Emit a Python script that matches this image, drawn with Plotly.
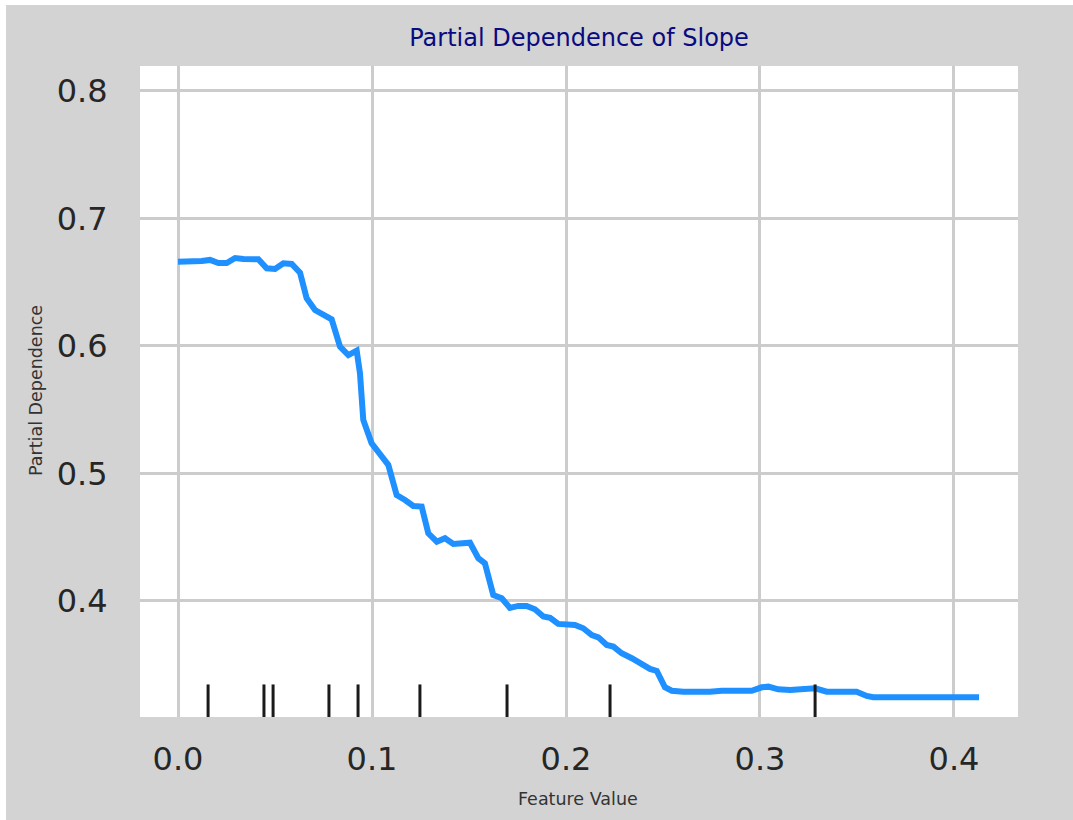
import plotly.graph_objects as go

# Partial dependence curve (feature value, partial dependence)
feature_values = [0.000, 0.0045, 0.0079, 0.0122, 0.0165, 0.0208, 0.0251, 0.0294, 0.0337, 0.0414,
                  0.0457, 0.0500, 0.0543, 0.0586, 0.0629, 0.0663, 0.0706, 0.0792, 0.0835, 0.0878,
                  0.0921, 0.0938, 0.0955, 0.0998, 0.1084, 0.1127, 0.1170, 0.1213, 0.1256, 0.1290,
                  0.1334, 0.1376, 0.1419, 0.1505, 0.1548, 0.1582, 0.1625, 0.1669, 0.1711, 0.1754,
                  0.1797, 0.1840, 0.1883, 0.1918, 0.1960, 0.2004, 0.2046, 0.2089, 0.2133, 0.2167,
                  0.2210, 0.2244, 0.2287, 0.2339, 0.2390, 0.2433, 0.2468, 0.2510, 0.2545, 0.2605,
                  0.2742, 0.2803, 0.2957, 0.3009, 0.3043, 0.3094, 0.3155, 0.3284, 0.3344, 0.3498,
                  0.3550, 0.3584, 0.4129]
partial_dependence = [0.666, 0.666, 0.667, 0.6667, 0.6675, 0.6651, 0.6651, 0.6690, 0.6682, 0.6680,
                      0.6609, 0.6604, 0.6649, 0.6643, 0.6575, 0.6374, 0.6282, 0.6209, 0.5995, 0.5929,
                      0.5963, 0.5786, 0.5420, 0.5237, 0.5067, 0.4831, 0.4792, 0.4745, 0.4740, 0.4531,
                      0.4465, 0.4492, 0.4447, 0.4457, 0.4335, 0.4296, 0.4047, 0.4021, 0.3945, 0.3961,
                      0.3961, 0.3935, 0.3878, 0.3867, 0.3820, 0.3820, 0.3812, 0.3786, 0.3733, 0.3715,
                      0.3655, 0.3642, 0.3590, 0.3551, 0.3506, 0.3467, 0.3451, 0.3323, 0.3296, 0.3289,
                      0.3289, 0.3296, 0.3296, 0.3323, 0.3328, 0.3307, 0.3302, 0.3315, 0.3289, 0.3289,
                      0.3255, 0.3245, 0.3245]

# Deciles of the feature (rug marks)
deciles = [0.0155, 0.0443, 0.0490, 0.0778, 0.0928, 0.1247, 0.1696, 0.2227, 0.3284]

x_ticks = [0.0, 0.1, 0.2, 0.3, 0.4]
x_tick_labels = ["0.0", "0.1", "0.2", "0.3", "0.4"]
y_ticks = [0.4, 0.5, 0.6, 0.7, 0.8]
y_tick_labels = ["0.4", "0.5", "0.6", "0.7", "0.8"]

fig = go.Figure()
fig.add_trace(go.Scatter(
    x=feature_values, y=partial_dependence, mode="lines",
    line=dict(color="#1e90ff", width=6, shape="linear"),
    showlegend=False, hoverinfo="x+y",
))

for d in deciles:
    fig.add_shape(type="line", xref="x", yref="y domain", x0=d, x1=d, y0=0, y1=0.05,
                  line=dict(color="#1a1a1a", width=3), layer="above")

W, H = 1073, 820
ml, mr, mt, mb = 140, 55, 66, 103
pw, ph = W - ml - mr, H - mt - mb
# thin white border of the original screenshot (top and left edges)
fig.add_shape(type="rect", xref="paper", yref="paper",
              x0=(0 - ml) / pw, x1=(6 - ml) / pw, y0=(mt + ph - H) / ph, y1=(mt + ph) / ph,
              fillcolor="white", line=dict(width=0), layer="above")
fig.add_shape(type="rect", xref="paper", yref="paper",
              x0=(0 - ml) / pw, x1=(W - ml) / pw, y0=(mt + ph - 5) / ph, y1=(mt + ph) / ph,
              fillcolor="white", line=dict(width=0), layer="above")

# axis titles as annotations for exact placement
fig.add_annotation(text="Feature Value", xref="paper", yref="paper",
                   x=(578 - ml) / pw, y=(mt + ph - 799) / ph, xanchor="center", yanchor="middle",
                   showarrow=False, font=dict(size=17.5, color="#333333", family="DejaVu Sans"))
fig.add_annotation(text="Partial Dependence", xref="paper", yref="paper", textangle=-90,
                   x=(36 - ml) / pw, y=(mt + ph - 391) / ph, xanchor="center", yanchor="middle",
                   showarrow=False, font=dict(size=17.5, color="#333333", family="DejaVu Sans"))

fig.update_layout(
    width=W, height=H,
    margin=dict(l=ml, r=mr, t=mt, b=mb),
    paper_bgcolor="#d3d3d3",
    plot_bgcolor="white",
    font=dict(family="DejaVu Sans", color="#262626"),
    title=dict(text="Partial Dependence of Slope", x=0.5, xanchor="center",
               y=1 - 38 / H, yanchor="middle",
               xref="paper",
               font=dict(size=24, color="#0a0a80", family="DejaVu Sans")),
    xaxis=dict(
        range=[-0.0196, 0.433], tickvals=x_ticks, ticktext=x_tick_labels,
        showgrid=True, gridcolor="#cccccc", gridwidth=2.5, zeroline=False,
        ticks="outside", ticklen=14, tickcolor="rgba(0,0,0,0)",
        tickfont=dict(size=32, color="#262626"),
        showline=False,
    ),
    yaxis=dict(
        range=[0.309, 0.8196], tickvals=y_ticks, ticktext=y_tick_labels,
        showgrid=True, gridcolor="#cccccc", gridwidth=2.5, zeroline=False,
        ticks="outside", ticklen=25, tickcolor="rgba(0,0,0,0)",
        tickfont=dict(size=32, color="#262626"),
        showline=False,
    ),
)

fig.write_html("out.html")
